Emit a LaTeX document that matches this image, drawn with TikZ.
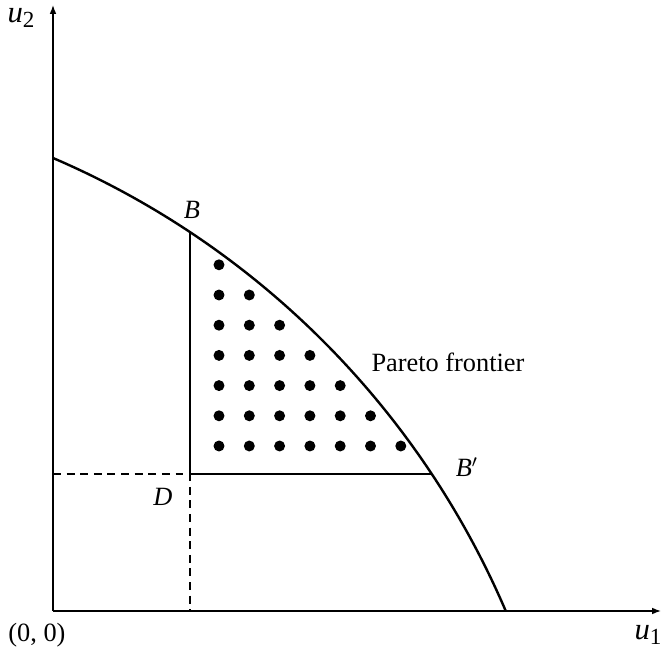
\documentclass[tikz,border=0pt]{standalone}
\usepackage{fontspec}
\setmainfont{Liberation Serif}
\usepackage{tikz}
\usetikzlibrary{arrows.meta,positioning,calc}
\newcommand{\varsub}[2]{\textit{#1}\raisebox{-0.4ex}{\fontsize{10.5}{12}\selectfont #2}}
\tikzset{
  lbl/.style={font=\fontsize{12}{14}\selectfont,inner sep=1pt},
  axlbl/.style={font=\fontsize{14}{16}\selectfont,inner sep=1pt},
  axis/.style={-{Latex[length=4pt,width=3pt]},line width=0.6pt},
  frontier/.style={line width=1.1pt},
  edge/.style={line width=0.85pt},
  guide/.style={line width=0.6pt,dash pattern=on 3.6pt off 2.6pt},
  pt/.style={circle,fill,inner sep=0pt,minimum size=5pt},
}
\begin{document}
\begin{tikzpicture}[x=0.016cm,y=0.016cm]
\useasboundingbox (-53,-38) rectangle (610,611);
\coordinate (O) at (0,0);
\coordinate (xend) at (608,0);
\coordinate (yend) at (0,606);
\coordinate (top) at (0,453);
\coordinate (B) at (137,378.6);
\coordinate (Bp) at (378.6,137);
\coordinate (D) at (137,137);
\coordinate (Dx) at (137,0);
\coordinate (Dy) at (0,137);
% axes
\draw[axis] (O)--(xend);
\draw[axis] (O)--(yend);
% frontier: circle arc centred at (-340,-340)
\draw[frontier] (top) arc[start angle=66.78,end angle=23.22,radius=862.5];
% region below the frontier
\draw[edge] (B)--(D)--(Bp);
\draw[guide] (Dy)--(D)--(Dx);
\foreach \r in {0,...,6} {
  \pgfmathtruncatemacro\n{6-\r}
  \foreach \c in {0,...,\n} \node[pt] (p\r\c) at (166+30.3*\c,165+30.2*\r) {};
}
\node[axlbl] (u2) at (-32,593) {\varsub{u}{2}};
\node[axlbl] (u1) at (595,-24) {\varsub{u}{1}};
\node[lbl] (zero) at (-16,-24) {(0, 0)};
\node[lbl] (Blbl) at (139,401) {\textit{B}};
\node[lbl] (Bplbl) at (414,144) {\textit{B}$'$};
\node[lbl] (Dlbl) at (110,114) {\textit{D}};
\node[lbl] (par) at (395,249) {Pareto frontier};
\end{tikzpicture}
\end{document}
